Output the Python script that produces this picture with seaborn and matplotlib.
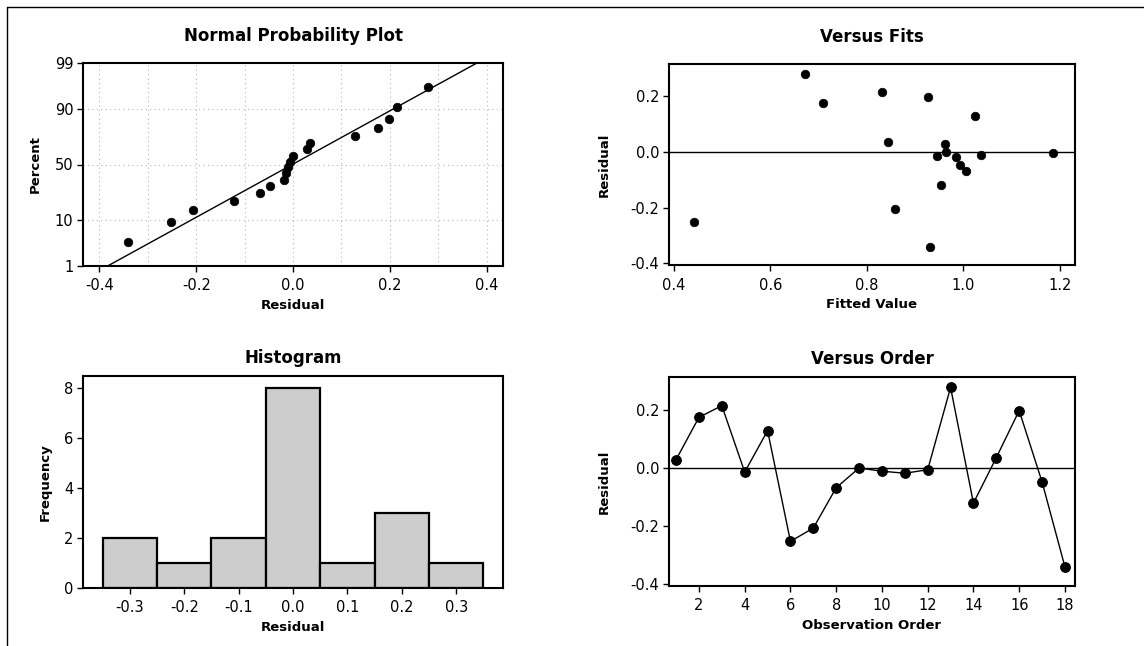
import numpy as np
import pandas as pd
import matplotlib
matplotlib.use("Agg")
import matplotlib.pyplot as plt
import seaborn as sns
from statistics import NormalDist
from matplotlib.lines import Line2D

# ---- data ----
observation_order = list(range(1, 19))
residuals = [0.029, 0.175, 0.215, -0.014, 0.129, -0.253, -0.207, -0.068, 0.000,
             -0.011, -0.018, -0.006, 0.278, -0.121, 0.036, 0.198, -0.048, -0.341]
fitted_values = [0.961, 0.709, 0.832, 0.946, 1.024, 0.442, 0.859, 1.005, 0.964,
                 1.036, 0.984, 1.186, 0.671, 0.953, 0.844, 0.926, 0.993, 0.931]
percent_ticks = [1, 10, 50, 90, 99]
hist_edges = [-0.35, -0.25, -0.15, -0.05, 0.05, 0.15, 0.25, 0.35]
hist_ticks = [-0.3, -0.2, -0.1, 0.0, 0.1, 0.2, 0.3]

sns.set_theme(style="white")
plt.rcParams['font.family'] = ['DejaVu Sans']
plt.rcParams['text.color'] = 'black'
plt.rcParams['axes.labelcolor'] = 'black'
plt.rcParams['xtick.color'] = 'black'
plt.rcParams['ytick.color'] = 'black'

df = pd.DataFrame({"order": observation_order, "resid": residuals, "fit": fitted_values})
nd = NormalDist()
n = len(residuals)
df_sorted = df.sort_values("resid").reset_index(drop=True)
df_sorted["z"] = [nd.inv_cdf((i + 1 - 0.3) / (n + 0.4)) for i in range(n)]

fig = plt.figure(figsize=(11.44, 6.46), dpi=100)
W, H = 1144, 646
def ax_at(l, t, r, b):
    return fig.add_axes([l / W, 1 - b / H, (r - l) / W, (b - t) / H])

ax1 = ax_at(83, 63, 503, 266)
ax2 = ax_at(669, 64, 1075, 265)
ax3 = ax_at(83, 376, 503, 588)
ax4 = ax_at(669, 377, 1075, 586)

title_kw = dict(fontsize=12, fontweight="bold", color="black")
label_kw = dict(fontsize=9.5, fontweight="bold", color="black")
mk = dict(color="black", s=38, edgecolor="black", linewidth=0.5, zorder=3)

# ---- Normal probability plot ----
mu = float(np.mean(residuals))
sd = float(np.std(residuals, ddof=1))
xl = np.linspace(-0.434, 0.434, 50)
line_df = pd.DataFrame({"x": xl, "z": (xl - mu) / sd})
sns.lineplot(data=line_df, x="x", y="z", ax=ax1, color="black", linewidth=1.0)
sns.scatterplot(data=df_sorted, x="resid", y="z", ax=ax1, **mk)
ax1.set_xlim(-0.434, 0.434)
zlo, zhi = nd.inv_cdf(0.01), nd.inv_cdf(0.99)
ax1.set_ylim(zlo, zhi)
ax1.set_yticks([nd.inv_cdf(p / 100) for p in percent_ticks])
ax1.set_yticklabels([str(p) for p in percent_ticks])
ax1.set_xticks([-0.4, -0.2, 0.0, 0.2, 0.4])
ax1.set_xticklabels(["-0.4", "-0.2", "0.0", "0.2", "0.4"])
for xv in np.arange(-0.4, 0.41, 0.1):
    ax1.axvline(xv, color="#b8b8b8", linestyle=(0, (1, 3)), linewidth=0.8, zorder=0)
for p in [10, 50, 90]:
    ax1.axhline(nd.inv_cdf(p / 100), color="#b8b8b8", linestyle=(0, (1, 3)), linewidth=0.8, zorder=0)
ax1.set_title("Normal Probability Plot", pad=16, **title_kw)
ax1.set_xlabel("Residual", **label_kw)
ax1.set_ylabel("Percent", labelpad=9, **label_kw)

# ---- Versus fits ----
sns.scatterplot(data=df, x="fit", y="resid", ax=ax2, **mk)
ax2.axhline(0, color="black", linewidth=1.0, zorder=1)
ax2.set_xlim(0.39, 1.231)
ax2.set_ylim(-0.406, 0.3145)
ax2.set_xticks([0.4, 0.6, 0.8, 1.0, 1.2])
ax2.set_xticklabels(["0.4", "0.6", "0.8", "1.0", "1.2"])
ax2.set_yticks([-0.4, -0.2, 0.0, 0.2])
ax2.set_yticklabels(["-0.4", "-0.2", "0.0", "0.2"])
ax2.set_title("Versus Fits", pad=16, **title_kw)
ax2.set_xlabel("Fitted Value", **label_kw)
ax2.set_ylabel("Residual", labelpad=14, **label_kw)

# ---- Histogram ----
sns.histplot(data=df, x="resid", bins=hist_edges, ax=ax3, color="#cdcdcd",
             edgecolor="black", linewidth=1.6, alpha=1.0)
ax3.set_xlim(-0.386, 0.386)
ax3.set_ylim(0, 8.5)
ax3.set_xticks(hist_ticks)
ax3.set_xticklabels(["-0.3", "-0.2", "-0.1", "0.0", "0.1", "0.2", "0.3"])
ax3.set_yticks([0, 2, 4, 6, 8])
ax3.set_title("Histogram", pad=9, **title_kw)
ax3.set_xlabel("Residual", **label_kw)
ax3.set_ylabel("Frequency", labelpad=9, **label_kw)

# ---- Versus order ----
sns.lineplot(data=df, x="order", y="resid", ax=ax4, color="black", linewidth=1.0,
             marker="o", markersize=7, markeredgecolor="black", markerfacecolor="black")
ax4.axhline(0, color="black", linewidth=1.0, zorder=1)
ax4.set_xlim(0.69, 18.44)
ax4.set_ylim(-0.407, 0.314)
ax4.set_xticks(list(range(2, 19, 2)))
ax4.set_yticks([-0.4, -0.2, 0.0, 0.2])
ax4.set_yticklabels(["-0.4", "-0.2", "0.0", "0.2"])
ax4.set_title("Versus Order", pad=9, **title_kw)
ax4.set_xlabel("Observation Order", **label_kw)
ax4.set_ylabel("Residual", labelpad=14, **label_kw)

for ax in (ax1, ax2, ax3, ax4):
    for s in ax.spines.values():
        s.set_visible(True)
        s.set_color("black")
        s.set_linewidth(1.5)
    ax.tick_params(axis="both", which="both", direction="out", length=4, width=1,
                   color="black", labelcolor="black", labelsize=10.5, pad=3,
                   bottom=True, left=True)
    ax.tick_params(axis="x", pad=5)
    ax.xaxis.labelpad = 4

# figure frame (top and left lines)
fig.add_artist(Line2D([7 / W, 7 / W], [0, 1 - 7 / H], color="black", linewidth=1.0))
fig.add_artist(Line2D([7 / W, 1], [1 - 7 / H, 1 - 7 / H], color="black", linewidth=1.0))

fig.savefig("out.png", dpi=100)
